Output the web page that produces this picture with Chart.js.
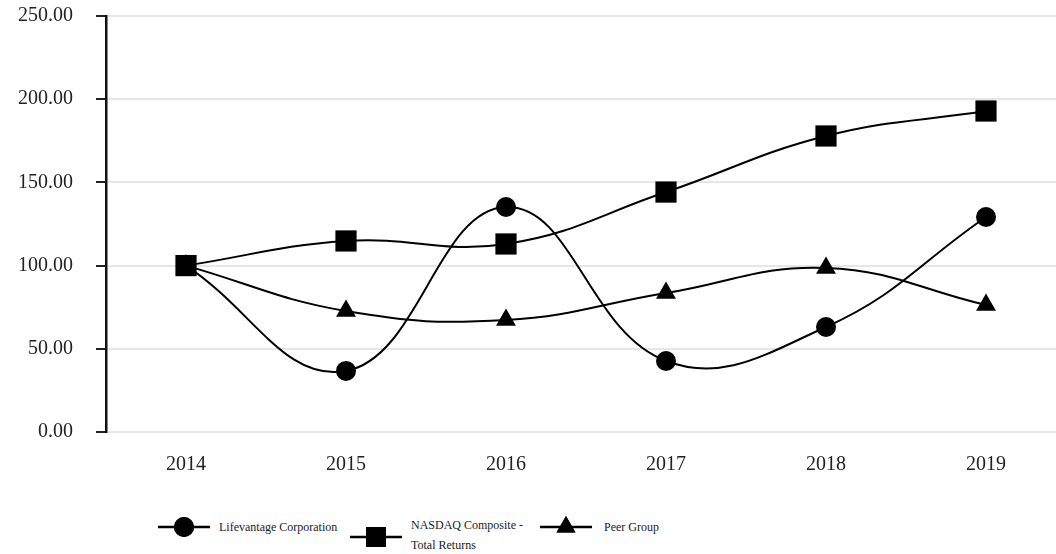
<!DOCTYPE html>
<html>
<head>
<meta charset="utf-8">
<script src="https://cdn.jsdelivr.net/npm/chart.js@4.4.0/dist/chart.umd.min.js"></script>
<style>
  html, body { margin: 0; padding: 0; background: #fff; overflow: hidden; }
  #wrap { position: relative; width: 1056px; height: 554px; overflow: hidden; }
  #box { position: absolute; left: 0; top: 0; width: 1081px; height: 480px; }
  .leg { position: absolute; font-family: "Liberation Serif", "Times New Roman", serif;
         font-size: 12px; color: #222; line-height: 20px; }
</style>
</head>
<body>
<div id="wrap">
  <div id="box"><canvas id="myChart" width="1081" height="480"></canvas></div>
  <div id="legend"></div>
</div>
<script>
// ── Data ──────────────────────────────────────
const years       = ['2014', '2015', '2016', '2017', '2018', '2019'];
const lifevantage = [100, 36.7, 135.2, 42.7, 63.1, 129.2];
const nasdaq      = [100, 114.8, 113.0, 144.2, 177.9, 192.9];
const peerGroup   = [100, 72.7, 67.3, 83.5, 98.6, 76.3];
const yTicks      = [0, 50, 100, 150, 200, 250];

const seriesNames = ['Lifevantage Corporation', 'NASDAQ Composite - Total Returns', 'Peer Group'];
const FONT = '"Liberation Serif", "Times New Roman", serif';

function lineSet(label, data, style, radius) {
  return {
    label, data,
    borderColor: '#000',
    backgroundColor: '#000',
    borderWidth: 2,
    pointStyle: style,
    pointRadius: radius,
    pointHoverRadius: radius,
    pointBorderWidth: 0,
    tension: 0.42,
    fill: false
  };
}

const ctx = document.getElementById('myChart').getContext('2d');
new Chart(ctx, {
  type: 'line',
  data: {
    labels: years,
    datasets: [
      lineSet(seriesNames[0], lifevantage, 'circle', 10),
      lineSet(seriesNames[1], nasdaq, 'rect', 15),
      lineSet(seriesNames[2], peerGroup, 'triangle', 11.5)
    ]
  },
  options: {
    responsive: false,
    animation: false,
    layout: { padding: 0 },
    plugins: { legend: { display: false }, tooltip: { enabled: false } },
    scales: {
      x: {
        offset: true,
        grid: { display: false, drawTicks: false },
        border: { display: false },
        ticks: { color: '#222', padding: 21, font: { family: FONT, size: 20 } },
        afterFit: s => { s.height = 48; }
      },
      y: {
        min: 0, max: 250,
        afterBuildTicks: s => { s.ticks = yTicks.map(v => ({ value: v })); },
        grid: { color: '#e6e6e6', lineWidth: 2, tickColor: '#222', tickLength: 10 },
        border: { display: true, color: '#111', width: 2.5 },
        ticks: {
          color: '#222', padding: 23,
          font: { family: FONT, size: 20 },
          callback: v => v.toFixed(2)
        },
        // fixed axis width and top gap so the plot lines up with the original
        afterFit: s => { s.width = 106; s.paddingTop = 16; s.paddingBottom = 0; }
      }
    }
  }
});

// ── Legend (line + marker samples) ───────────
const legendItems = [
  { style: 'circle',   r: 10, x: 158, y: 517, tx: 219, ty: 517, lines: [seriesNames[0]] },
  { style: 'rect',     r: 14, x: 350, y: 527, tx: 411, ty: 515, lines: ['NASDAQ Composite -', 'Total Returns'] },
  { style: 'triangle', r: 11, x: 540, y: 517, tx: 604, ty: 517, lines: [seriesNames[2]] }
];
const legendEl = document.getElementById('legend');
legendItems.forEach(item => {
  const c = document.createElement('canvas');
  c.width = 52; c.height = 22;
  c.style.position = 'absolute';
  c.style.left = item.x + 'px'; c.style.top = (item.y - 1) + 'px';
  const g = c.getContext('2d');
  g.strokeStyle = '#000'; g.lineWidth = 2.5;
  g.beginPath(); g.moveTo(0, 11); g.lineTo(52, 11); g.stroke();
  g.fillStyle = '#000';
  Chart.helpers.drawPoint(g, { pointStyle: item.style, radius: item.r, borderWidth: 0 }, 26, 11);
  g.fill();
  legendEl.appendChild(c);
  const t = document.createElement('div');
  t.className = 'leg';
  t.style.left = item.tx + 'px'; t.style.top = item.ty + 'px';
  t.innerHTML = item.lines.join('<br>');
  legendEl.appendChild(t);
});
</script>
</body>
</html>
